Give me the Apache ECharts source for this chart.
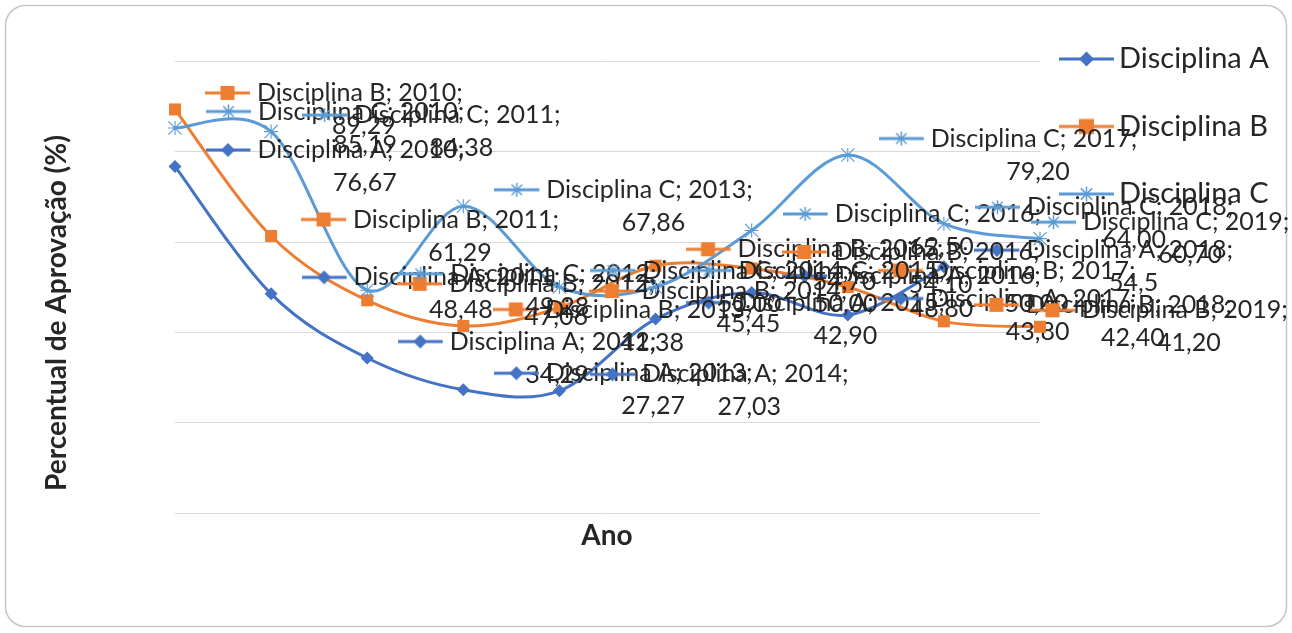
<!DOCTYPE html>
<html><head><meta charset="utf-8">
<script src="https://cdn.jsdelivr.net/npm/echarts@6/dist/echarts.min.js"></script>
<style>html,body{margin:0;padding:0;background:#fff;}#c{width:1292px;height:633px;}</style>
</head><body><div id="c"></div>
<script>
// ---- data ----
const years = ['2010','2011','2012','2013','2014','2015','2016','2017','2018','2019'];
const seriesNames = ['Disciplina A','Disciplina B','Disciplina C'];
const discA = ['76.67','48.48','34.29','27.27','27.03','42.90','48.80','43.80','54.5',null];
const discB = ['89.29','61.29','47.06','41.38','45.45','54.70','54.10','50.00','42.40','41.20'];
const discC = ['85.19','84.38','49.28','67.86','50.00','50.00','62.50','79.20','64.00','60.70'];
const yTicks = [0, 20, 40, 60, 80, 100];
const xTitle = 'Ano';
const yTitle = 'Percentual de Aprovação (%)';

// ---- styles ----
const colors = ['#4472C4', '#ED7D31', '#5B9BD5'];
const markerKinds = ['diamond', 'square', 'star'];
const FONT = 'Lato, "Open Sans", sans-serif';
const TXT = '#262626';

function drawMarker(ctx, kind, cx, cy, s, color) {
  ctx.fillStyle = color; ctx.strokeStyle = color;
  if (kind === 'diamond') {
    ctx.beginPath();
    ctx.moveTo(cx, cy - s / 2); ctx.lineTo(cx + s / 2, cy);
    ctx.lineTo(cx, cy + s / 2); ctx.lineTo(cx - s / 2, cy); ctx.closePath(); ctx.fill();
  } else if (kind === 'square') {
    ctx.fillRect(cx - s / 2, cy - s / 2, s, s);
  } else {
    ctx.lineWidth = 1.5;
    const r = s / 2;
    ctx.beginPath();
    ctx.moveTo(cx, cy - r); ctx.lineTo(cx, cy + r);
    ctx.moveTo(cx - r, cy); ctx.lineTo(cx + r, cy);
    ctx.moveTo(cx - r * 0.75, cy - r * 0.75); ctx.lineTo(cx + r * 0.75, cy + r * 0.75);
    ctx.moveTo(cx + r * 0.75, cy - r * 0.75); ctx.lineTo(cx - r * 0.75, cy + r * 0.75);
    ctx.stroke();
  }
}
function keyCanvas(i, w, lineW, h, ms) {
  const c = document.createElement('canvas');
  c.width = w; c.height = h;
  const ctx = c.getContext('2d');
  ctx.strokeStyle = colors[i]; ctx.lineWidth = 3;
  ctx.beginPath(); ctx.moveTo(0, h / 2); ctx.lineTo(lineW, h / 2); ctx.stroke();
  drawMarker(ctx, markerKinds[i], lineW / 2, h / 2, ms, colors[i]);
  return c;
}
const labelKeys = [0, 1, 2].map(i => keyCanvas(i, 52, 45, 18, 14));
const legendKeys = [0, 1, 2].map(i => 'image://' + keyCanvas(i, 55, 55, 20, 15).toDataURL());

const starPath = 'path://M9.2,0 L10.8,0 L10.8,20 L9.2,20 Z M0,9.2 L20,9.2 L20,10.8 L0,10.8 Z ' +
  'M1.13,0 L20,18.87 L18.87,20 L0,1.13 Z M18.87,0 L20,1.13 L1.13,20 L0,18.87 Z';
const symbols = ['diamond', 'rect', starPath];
const symbolSizes = [13, 12, 14];

const raw = [discA, discB, discC];
const rich = {
  k0: { backgroundColor: { image: labelKeys[0] }, width: 52, height: 18 },
  k1: { backgroundColor: { image: labelKeys[1] }, width: 52, height: 18 },
  k2: { backgroundColor: { image: labelKeys[2] }, width: 52, height: 18 },
  sp: { width: 60 },
  v: { align: 'center', fontFamily: FONT, fontSize: 25, color: TXT, lineHeight: 33 },
  t: { fontFamily: FONT, fontSize: 25, color: TXT, lineHeight: 33 }
};

// labels near the right edge are pulled back inside the chart area, as in the original
const edgeShift = { '1-9': [-40, 0], '2-9': [-40, 0] };

// Excel-style (Catmull-Rom) smoothed curve through the axis coordinates of the data
function curveSeries(si) {
  const arr = raw[si];
  const first = arr.findIndex(v => v !== null);
  return {
    type: 'custom',
    name: seriesNames[si] + ' curve',
    silent: true,
    clip: false,
    z: 1,
    data: arr.map((v, i) => [i, v === null ? null : Number(v)]),
    encode: { x: 0, y: 1 },
    renderItem: function (params, api) {
      if (params.dataIndex !== first) return null;
      const pts = [];
      arr.forEach((v, i) => { if (v !== null) pts.push(api.coord([i, Number(v)])); });
      let d = 'M' + pts[0][0] + ' ' + pts[0][1];
      for (let i = 0; i < pts.length - 1; i++) {
        const p0 = pts[Math.max(i - 1, 0)], p1 = pts[i], p2 = pts[i + 1], p3 = pts[Math.min(i + 2, pts.length - 1)];
        const c1x = p1[0] + (p2[0] - p0[0]) / 6, c1y = p1[1] + (p2[1] - p0[1]) / 6;
        const c2x = p2[0] - (p3[0] - p1[0]) / 6, c2y = p2[1] - (p3[1] - p1[1]) / 6;
        d += ' C' + c1x + ' ' + c1y + ' ' + c2x + ' ' + c2y + ' ' + p2[0] + ' ' + p2[1];
      }
      return {
        type: 'path',
        shape: { pathData: d },
        style: { fill: null, stroke: colors[si], lineWidth: 3, lineJoin: 'round', lineCap: 'round' }
      };
    }
  };
}

const pointSeries = raw.map((arr, si) => ({
  name: seriesNames[si],
  type: 'line',
  symbol: symbols[si],
  symbolSize: symbolSizes[si],
  lineStyle: { color: colors[si], width: 3, opacity: 0 },
  itemStyle: { color: colors[si], borderWidth: 0 },
  data: arr.map((v, di) => {
    const item = { value: v === null ? null : Number(v) };
    const off = edgeShift[si + '-' + di];
    if (off) item.label = { offset: off };
    return item;
  }),
  label: {
    show: true,
    position: 'right',
    distance: 24,
    fontFamily: FONT, fontSize: 25, color: TXT, lineHeight: 33,
    formatter: p => '{k' + si + '|}{t|' + seriesNames[si] + '; ' + years[p.dataIndex] + ';}\n{sp|}{v|' +
      String(raw[si][p.dataIndex]).replace('.', ',') + '}',
    rich: rich
  },
  emphasis: { disabled: true },
  z: 3 + si
}));

const chart = echarts.init(document.getElementById('c'), null, { renderer: 'canvas' });
chart.setOption({
  backgroundColor: '#fff',
  animation: false,
  grid: { left: 175, right: 252, top: 61, bottom: 120, containLabel: false },
  xAxis: {
    type: 'category', data: years, boundaryGap: false,
    axisLine: { show: false }, axisTick: { show: false }, axisLabel: { show: false },
    splitLine: { show: false }
  },
  yAxis: {
    type: 'value', min: yTicks[0], max: yTicks[yTicks.length - 1], interval: yTicks[1] - yTicks[0],
    axisLine: { show: false }, axisTick: { show: false }, axisLabel: { show: false },
    splitLine: { show: true, lineStyle: { color: '#d9d9d9', width: 1 } }
  },
  legend: {
    orient: 'vertical', left: 1054, top: 39,
    itemWidth: 55, itemHeight: 20, itemGap: 37.5,
    textStyle: { fontFamily: FONT, fontSize: 29, color: TXT, lineHeight: 30 },
    data: seriesNames.map((n, i) => ({ name: n, icon: legendKeys[i] })),
    selectedMode: false
  },
  graphic: [
    { type: 'rect', silent: true, z: -1,
      shape: { x: 5.5, y: 5.5, width: 1281, height: 621, r: 20 },
      style: { fill: 'none', stroke: '#c6c6c6', lineWidth: 1.5 } },
    { type: 'text', silent: true, x: 57, y: 313, rotation: Math.PI / 2,
      style: { text: yTitle, fontFamily: FONT, fontWeight: 'bold', fontSize: 28, fill: TXT,
               align: 'center', verticalAlign: 'middle' } },
    { type: 'text', silent: true, x: 607, y: 536,
      style: { text: xTitle, fontFamily: FONT, fontWeight: 'bold', fontSize: 28, fill: TXT,
               align: 'center', verticalAlign: 'middle' } }
  ],
  series: [curveSeries(0), curveSeries(1), curveSeries(2)].concat(pointSeries)
});
</script>
</body></html>
